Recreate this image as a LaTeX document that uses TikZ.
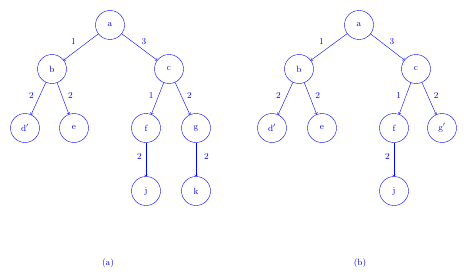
\documentclass[tikz,border=0pt]{standalone}
\usepackage{tikz}
\usetikzlibrary{arrows,positioning}

\begin{document}
\begin{tikzpicture}[x=1pt, y=-1pt, blue, font=\small]
    \tikzset{vert/.style={circle, draw, minimum size=29pt, inner sep=0pt},
             wt/.style={font=\small, inner sep=2pt}}
    \useasboundingbox (0,0) rectangle (468,278);

    % Tree (a)
    \node (a1) [vert] at (110,25) {a};
    \node (b1) [vert] at (52,69) {b};
    \node (c1) [vert] at (169,69) {c};
    \node (d1) [vert] at (25,128) {d$'$};
    \node (e1) [vert] at (74,128) {e};
    \node (f1) [vert] at (146,128) {f};
    \node (g1) [vert] at (196,128) {g};
    \node (j1) [vert] at (146,191) {j};
    \node (k1) [vert] at (196,191) {k};
    \node (capa) at (108,263) {(a)};

    % Tree (b)
    \node (a2) [vert] at (359,25) {a};
    \node (b2) [vert] at (299,69) {b};
    \node (c2) [vert] at (416,69) {c};
    \node (d2) [vert] at (272,128) {d$'$};
    \node (e2) [vert] at (322,128) {e};
    \node (f2) [vert] at (394,128) {f};
    \node (g2) [vert] at (442,128) {g$'$};
    \node (j2) [vert] at (394,191) {j};
    \node (capb) at (360,263) {(b)};

    % Edges (a)
    \draw [->] (a1) -- node[wt, above left, xshift=-3pt] {1} (b1);
    \draw [->] (a1) -- node[wt, above right] {3} (c1);
    \draw [->] (b1) -- node[wt, left=4pt, pos=0.4] {2} (d1);
    \draw [->] (b1) -- node[wt, right=4pt, pos=0.4] {2} (e1);
    \draw [->] (c1) -- node[wt, left=3pt, pos=0.4] {1} (f1);
    \draw [->] (c1) -- node[wt, right=4pt, pos=0.4] {2} (g1);
    \draw [->] (f1) -- node[wt, left=2pt, pos=0.4] {2} (j1);
    \draw [->] (g1) -- node[wt, right=6pt, pos=0.4] {2} (k1);

    % Edges (b)
    \draw [->] (a2) -- node[wt, above left, xshift=-3pt] {1} (b2);
    \draw [->] (a2) -- node[wt, above right] {3} (c2);
    \draw [->] (b2) -- node[wt, left=4pt, pos=0.4] {2} (d2);
    \draw [->] (b2) -- node[wt, right=4pt, pos=0.4] {2} (e2);
    \draw [->] (c2) -- node[wt, left=3pt, pos=0.4] {1} (f2);
    \draw [->] (c2) -- node[wt, right=4pt, pos=0.4] {2} (g2);
    \draw [->] (f2) -- node[wt, left=2pt, pos=0.4] {2} (j2);
\end{tikzpicture}
\end{document}
